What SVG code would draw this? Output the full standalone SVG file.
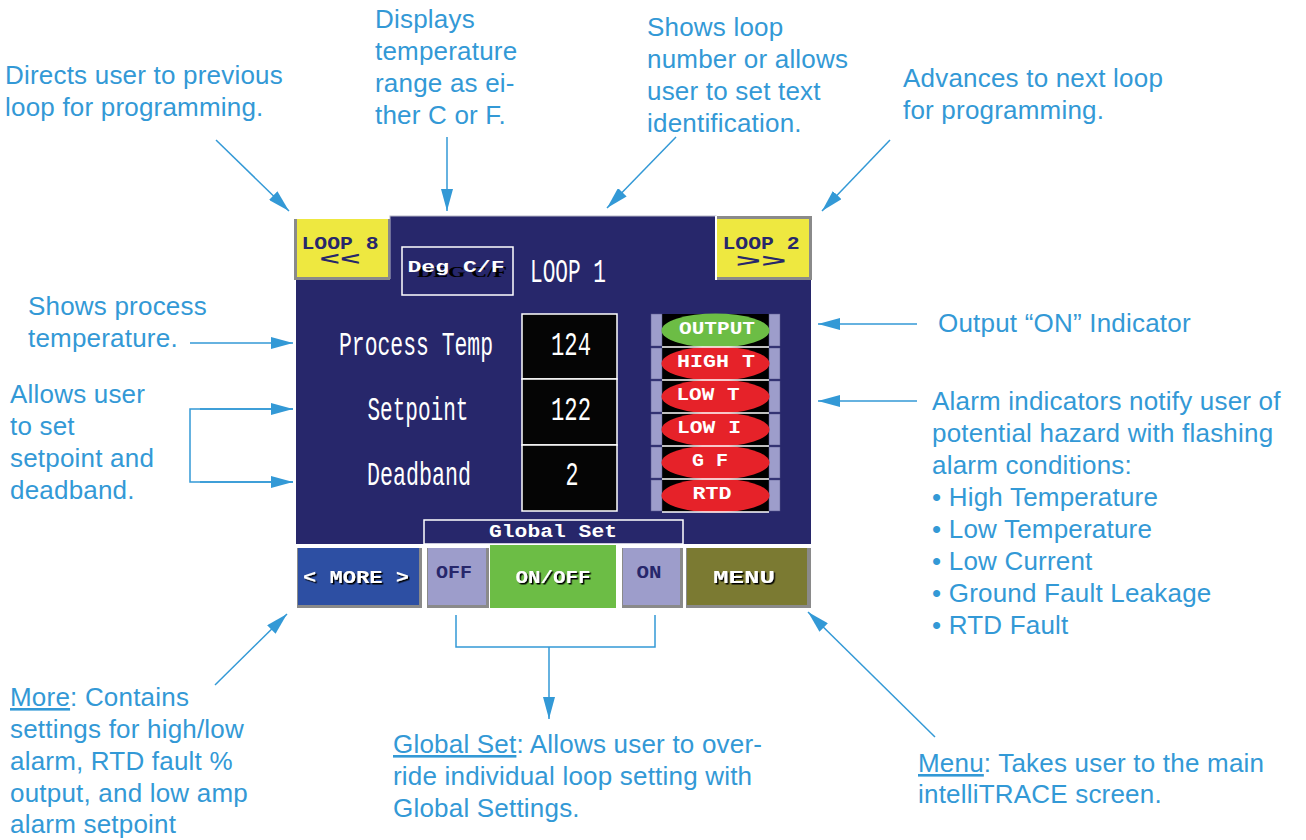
<svg xmlns="http://www.w3.org/2000/svg" width="1306" height="840" viewBox="0 0 1306 840">
<style>
.ann{font-family:"Liberation Sans",Arial,sans-serif;font-size:26px;letter-spacing:0.2px;fill:#3399d6}
.conn{stroke:#3399d6;stroke-width:1.5;fill:none}
.arr{marker-end:url(#ah)}
.mono{font-family:"Liberation Mono","DejaVu Sans Mono",monospace}
.lbl{font-size:34px;fill:#ffffff;text-anchor:middle}
.btn{font-size:18px;font-weight:bold;text-anchor:middle}
.wt{fill:#ffffff}
.nv{fill:#27276b}
.shadow{fill:#8a8a8a}
.ind{font-size:19px;font-weight:bold;fill:#ffffff;text-anchor:middle}
</style>
<defs>
<marker id="ah" markerUnits="userSpaceOnUse" markerWidth="22" markerHeight="12" refX="22" refY="6" orient="auto">
<path d="M0,0 L22,6 L0,12 z" fill="#3399d6"/>
</marker>
<filter id="ds" x="-10%" y="-10%" width="130%" height="140%">
<feDropShadow dx="1.5" dy="1.5" stdDeviation="0" flood-color="#000000"/>
</filter>
</defs>
<rect width="1306" height="840" fill="#ffffff"/>

<!-- screen panel -->
<g id="screen">
<rect x="390" y="216" width="326" height="66" fill="#27276b" stroke="#b8b8c8" stroke-width="1"/>
<rect x="296" y="279" width="515" height="265" fill="#27276b"/>
</g>

<g id="loop8">
<rect x="294" y="219" width="96" height="61" class="shadow"/>
<rect x="297" y="219" width="91" height="58" fill="#eee840"/>
<text class="mono btn nv" x="340" y="249" font-size="19" textLength="77" lengthAdjust="spacingAndGlyphs">LOOP 8</text>
<text class="mono btn nv" x="340" y="265" font-size="14" textLength="41" lengthAdjust="spacingAndGlyphs">&lt;&lt;</text>
</g>

<g id="loop2">
<rect x="715" y="216" width="97" height="64" class="shadow"/>
<rect x="715" y="216" width="2" height="64" fill="#ffffff"/>
<rect x="717" y="219" width="92" height="58" fill="#eee840"/>
<text class="mono btn nv" x="761" y="249" font-size="19" textLength="77" lengthAdjust="spacingAndGlyphs">LOOP 2</text>
<text class="mono btn nv" x="761" y="267" font-size="14" textLength="51" lengthAdjust="spacingAndGlyphs">&gt;&gt;</text>
</g>

<g id="degcf">
<rect x="402" y="247" width="111" height="48" fill="none" stroke="#ffffff" stroke-width="1.5"/>
<text x="462" y="277" font-family="Liberation Serif,serif" font-weight="bold" font-size="15" fill="#000000" text-anchor="middle" textLength="90" lengthAdjust="spacingAndGlyphs">DEG C/F</text>
<text class="mono" x="456" y="272" font-size="16" font-weight="bold" fill="#ffffff" text-anchor="middle" textLength="97" lengthAdjust="spacingAndGlyphs">Deg C/F</text>
</g>

<g id="loop1">
<text class="mono lbl" x="568" y="282" font-size="34" textLength="76" lengthAdjust="spacingAndGlyphs">LOOP 1</text>
</g>

<g id="process-temp">
<text class="mono lbl" x="416" y="355" textLength="154" lengthAdjust="spacingAndGlyphs">Process Temp</text>
<rect x="522" y="314" width="95" height="65" fill="#050505" stroke="#ffffff" stroke-width="1.5"/>
<text class="mono lbl" x="571" y="355" font-size="36" textLength="40" lengthAdjust="spacingAndGlyphs">124</text>
</g>
<g id="setpoint">
<text class="mono lbl" x="418" y="420" textLength="101" lengthAdjust="spacingAndGlyphs">Setpoint</text>
<rect x="522" y="379" width="95" height="66" fill="#050505" stroke="#ffffff" stroke-width="1.5"/>
<text class="mono lbl" x="571" y="420" font-size="36" textLength="40" lengthAdjust="spacingAndGlyphs">122</text>
</g>
<g id="deadband">
<text class="mono lbl" x="419" y="485" textLength="104" lengthAdjust="spacingAndGlyphs">Deadband</text>
<rect x="522" y="445" width="95" height="66" fill="#050505" stroke="#ffffff" stroke-width="1.5"/>
<text class="mono lbl" x="572" y="485" font-size="36" textLength="13" lengthAdjust="spacingAndGlyphs">2</text>
</g>

<g id="indicators">
<rect x="662" y="314" width="107" height="198" fill="#000000"/>
<g fill="#9d9dcb" stroke="#5a5a8a" stroke-width="0.5">
<rect x="651" y="314" width="11" height="32"/><rect x="769" y="314" width="11" height="32"/>
<rect x="651" y="348" width="11" height="31"/><rect x="769" y="348" width="11" height="31"/>
<rect x="651" y="381" width="11" height="31"/><rect x="769" y="381" width="11" height="31"/>
<rect x="651" y="414" width="11" height="31"/><rect x="769" y="414" width="11" height="31"/>
<rect x="651" y="447" width="11" height="31"/><rect x="769" y="447" width="11" height="31"/>
<rect x="651" y="480" width="11" height="31"/><rect x="769" y="480" width="11" height="31"/>
</g>
<ellipse cx="715.5" cy="330.5" rx="54" ry="17" fill="#6cbd45"/>
<ellipse cx="715.5" cy="363.5" rx="54" ry="17" fill="#e62229"/>
<ellipse cx="715.5" cy="396.5" rx="54" ry="17" fill="#e62229"/>
<ellipse cx="715.5" cy="429.5" rx="54" ry="17" fill="#e62229"/>
<ellipse cx="715.5" cy="462.5" rx="54" ry="17" fill="#e62229"/>
<ellipse cx="715.5" cy="495.5" rx="54" ry="17" fill="#e62229"/>
<g stroke="#ffffff" stroke-width="1.5">
<line x1="662" y1="347" x2="769" y2="347"/><line x1="662" y1="380" x2="769" y2="380"/>
<line x1="662" y1="413" x2="769" y2="413"/><line x1="662" y1="446" x2="769" y2="446"/>
<line x1="662" y1="479" x2="769" y2="479"/><line x1="662" y1="512" x2="769" y2="512"/>
</g>
<text class="mono ind" x="717" y="334" textLength="76" lengthAdjust="spacingAndGlyphs">OUTPUT</text>
<text class="mono ind" x="716" y="367" textLength="78" lengthAdjust="spacingAndGlyphs">HIGH T</text>
<text class="mono ind" x="708" y="400" textLength="63" lengthAdjust="spacingAndGlyphs">LOW T</text>
<text class="mono ind" x="709" y="433" textLength="64" lengthAdjust="spacingAndGlyphs">LOW I</text>
<text class="mono ind" x="710" y="466" textLength="36" lengthAdjust="spacingAndGlyphs">G F</text>
<text class="mono ind" x="712" y="499" textLength="39" lengthAdjust="spacingAndGlyphs">RTD</text>
</g>

<g id="global-set">
<rect x="424" y="520" width="259" height="24" fill="#27276b" stroke="#ffffff" stroke-width="1.5"/>
<text class="mono btn wt" x="553" y="537" font-size="17" textLength="128" lengthAdjust="spacingAndGlyphs">Global Set</text>
</g>

<g id="more">
<rect x="297" y="548" width="125" height="60" class="shadow"/>
<rect x="298" y="548" width="121" height="57" fill="#2d4fa3"/>
<text class="mono btn wt" x="356" y="583" filter="url(#ds)" textLength="106" lengthAdjust="spacingAndGlyphs">&lt; MORE &gt;</text>
</g>
<g id="off">
<rect x="427" y="548" width="62" height="60" class="shadow"/>
<rect x="428" y="548" width="58" height="57" fill="#9d9dcb"/>
<text class="mono btn nv" x="454" y="578" textLength="36" lengthAdjust="spacingAndGlyphs">OFF</text>
</g>
<g id="onoff">
<rect x="490" y="545" width="126" height="63" fill="#6cbd45"/>
<text class="mono btn wt" x="553" y="583" filter="url(#ds)" textLength="75" lengthAdjust="spacingAndGlyphs">ON/OFF</text>
</g>
<g id="on">
<rect x="622" y="548" width="61" height="60" class="shadow"/>
<rect x="623" y="548" width="57" height="57" fill="#9d9dcb"/>
<text class="mono btn nv" x="649" y="578" textLength="25" lengthAdjust="spacingAndGlyphs">ON</text>
</g>
<g id="menu">
<rect x="686" y="548" width="125" height="60" class="shadow"/>
<rect x="687" y="548" width="120" height="57" fill="#7b7a32"/>
<text class="mono btn wt" x="744" y="583" filter="url(#ds)" textLength="62" lengthAdjust="spacingAndGlyphs">MENU</text>
</g>

<!-- annotations -->
<g id="ann-prev">
<text class="ann" x="5" y="84">Directs user to previous</text>
<text class="ann" x="5" y="116">loop for programming.</text>
</g>
<g id="ann-deg">
<text class="ann" x="375" y="28">Displays</text>
<text class="ann" x="375" y="60">temperature</text>
<text class="ann" x="375" y="92">range as ei-</text>
<text class="ann" x="375" y="124">ther C or F.</text>
</g>
<g id="ann-loop">
<text class="ann" x="647" y="36">Shows loop</text>
<text class="ann" x="647" y="68">number or allows</text>
<text class="ann" x="647" y="100">user to set text</text>
<text class="ann" x="647" y="132">identification.</text>
</g>
<g id="ann-next">
<text class="ann" x="903" y="87">Advances to next loop</text>
<text class="ann" x="903" y="119">for programming.</text>
</g>
<g id="ann-process">
<text class="ann" x="28" y="315">Shows process</text>
<text class="ann" x="28" y="347">temperature.</text>
</g>
<g id="ann-setpoint">
<text class="ann" x="10" y="403">Allows user</text>
<text class="ann" x="10" y="435">to set</text>
<text class="ann" x="10" y="467">setpoint and</text>
<text class="ann" x="10" y="499">deadband.</text>
</g>
<g id="ann-output">
<text class="ann" x="938" y="332">Output “ON” Indicator</text>
</g>
<g id="ann-alarm">
<text class="ann" x="932" y="410">Alarm indicators notify user of</text>
<text class="ann" x="932" y="442">potential hazard with flashing</text>
<text class="ann" x="932" y="474">alarm conditions:</text>
<text class="ann" x="932" y="506">• High Temperature</text>
<text class="ann" x="932" y="538">• Low Temperature</text>
<text class="ann" x="932" y="570">• Low Current</text>
<text class="ann" x="932" y="602">• Ground Fault Leakage</text>
<text class="ann" x="932" y="634">• RTD Fault</text>
</g>
<g id="ann-more">
<text class="ann" x="10" y="706"><tspan text-decoration="underline">More</tspan>: Contains</text>
<text class="ann" x="10" y="738">settings for high/low</text>
<text class="ann" x="10" y="770">alarm, RTD fault %</text>
<text class="ann" x="10" y="802">output, and low amp</text>
<text class="ann" x="10" y="833">alarm setpoint</text>
</g>
<g id="ann-global">
<text class="ann" x="393" y="753"><tspan text-decoration="underline">Global Set</tspan>: Allows user to over-</text>
<text class="ann" x="393" y="785">ride individual loop setting with</text>
<text class="ann" x="393" y="817">Global Settings.</text>
</g>
<g id="ann-menu">
<text class="ann" x="918" y="772"><tspan text-decoration="underline">Menu</tspan>: Takes user to the main</text>
<text class="ann" x="918" y="803">intelliTRACE screen.</text>
</g>

<g id="connectors">
<line class="conn arr" x1="216" y1="140" x2="289" y2="211"/>
<line class="conn arr" x1="447" y1="137" x2="447" y2="211"/>
<line class="conn arr" x1="676" y1="137" x2="607" y2="208"/>
<line class="conn arr" x1="890" y1="140" x2="822" y2="211"/>
<line class="conn arr" x1="190" y1="343" x2="293" y2="343"/>
<path class="conn" d="M293,409 H190 V482 H293"/>
<line class="conn arr" x1="200" y1="409" x2="293" y2="409"/>
<line class="conn arr" x1="200" y1="482" x2="293" y2="482"/>
<line class="conn arr" x1="917" y1="324" x2="818" y2="324"/>
<line class="conn arr" x1="917" y1="401" x2="818" y2="401"/>
<line class="conn arr" x1="215" y1="685" x2="287" y2="614"/>
<path class="conn" d="M456,615 V647 H655 V615"/>
<line class="conn arr" x1="549" y1="647" x2="549" y2="719"/>
<line class="conn arr" x1="935" y1="737" x2="808" y2="612"/>
</g>
</svg>
